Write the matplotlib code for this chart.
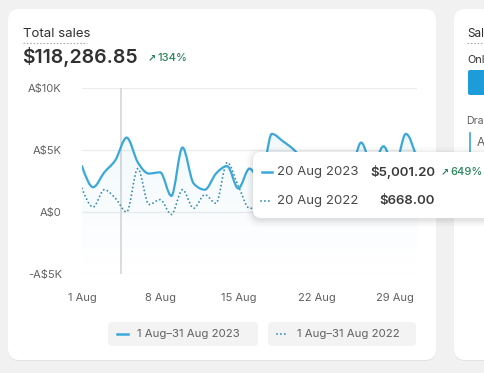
import numpy as np
import matplotlib
matplotlib.use('Agg')
from matplotlib import pyplot as plt
from matplotlib.path import Path
from matplotlib.patches import PathPatch, FancyBboxPatch
from matplotlib.lines import Line2D
from matplotlib.transforms import IdentityTransform

W, H = 485, 373

# data (A$ per day)
days = list(range(1, 32))
sales_2023 = [3700, 2000, 3200, 4200, 6000, 4000, 3100, 3200, 1300, 5200,
              2300, 1800, 3100, 3700, 1900, 3500, 2500, 6300, 5700, 5001.20,
              4000, 3300, 2700, 3500, 3300, 5600, 3700, 5300, 3600, 6300, 4200]
sales_2022 = [1900, 400, 1800, 1100, 0, 3500, 600, 1000, -200, 1800,
              300, 1400, 700, 4000, 2100, 300, 400, 1500, 1000, 668.00,
              1200, 2000, 800, 1500, 500, 2200, 1000, 1800, 600, 2500, 1200]
x_ticks = [1, 8, 15, 22, 29]
x_labels = ['1 Aug', '8 Aug', '15 Aug', '22 Aug', '29 Aug']
y_ticks = [-5000, 0, 5000, 10000]
y_labels = ['-A$5K', 'A$0', 'A$5K', 'A$10K']
hover_day = 4.5

BLUE = '#3aa8d8'
DOT = '#3a90b2'
GREEN = '#29845a'
GREY = '#616161'
DARK = '#303030'
DOTS = (0, (0.01, 2.0))

plt.rcParams['font.family'] = ['Inter', 'DejaVu Sans']


def smooth(x, y):
    # monotone cubic (like d3 curveMonotoneX) as bezier path in data coords
    x = np.asarray(x, float)
    y = np.asarray(y, float)
    n = len(x)
    h = np.diff(x)
    s = np.diff(y) / h
    t = np.zeros(n)
    for i in range(1, n - 1):
        p = (s[i - 1] * h[i] + s[i] * h[i - 1]) / (h[i - 1] + h[i])
        t[i] = (np.sign(s[i - 1]) + np.sign(s[i])) * min(abs(s[i - 1]), abs(s[i]), 0.5 * abs(p))
    t[0] = (3 * s[0] - t[1]) / 2
    t[-1] = (3 * s[-1] - t[-2]) / 2
    verts = [(x[0], y[0])]
    codes = [Path.MOVETO]
    for i in range(n - 1):
        dx = h[i] / 3
        verts += [(x[i] + dx, y[i] + dx * t[i]), (x[i + 1] - dx, y[i + 1] - dx * t[i + 1]), (x[i + 1], y[i + 1])]
        codes += [Path.CURVE4] * 3
    return verts, codes


def box(x0, y0, x1, y1, r, **kw):
    p = FancyBboxPatch((x0, H - y1), x1 - x0, y1 - y0,
                       boxstyle='round,pad=0,rounding_size=%s' % r,
                       transform=IdentityTransform(), **kw)
    fig.add_artist(p)
    return p


def txt(x, y, s, **kw):
    kw.setdefault('va', 'center')
    return fig.text(x / W, 1 - y / H, s, **kw)


def seg(x0, x1, y0, y1=None, **kw):
    y1 = y0 if y1 is None else y1
    fig.add_artist(Line2D([x0, x1], [H - y0, H - y1], transform=IdentityTransform(), **kw))


fig = plt.figure(figsize=(W / 100, H / 100), dpi=100, facecolor='#f1f1f1')

# cards
box(8, 10, 436, 361, 11, facecolor='#e3e3e3', edgecolor='none', zorder=-3)
box(8, 9, 436, 360, 11, facecolor='white', edgecolor='none', zorder=-2)
box(454, 10, 520, 361, 11, facecolor='#e3e3e3', edgecolor='none', zorder=-3)
box(454, 9, 520, 360, 11, facecolor='white', edgecolor='none', zorder=-2)

# header
txt(23, 34, 'Total sales', fontsize=9.5, color=DARK)
seg(23, 87, 43, color='#b0b0b0', lw=0.8, ls=(0, (1.5, 1.5)))
txt(22, 57, '$118,286.85', fontsize=14, color=DARK, fontweight='semibold')
txt(148, 58, '↗', fontsize=7, color=GREEN, fontweight='bold', family=['DejaVu Sans'])
txt(157, 58, '134%', fontsize=8, color=GREEN, fontweight='medium')

# chart
ax = fig.add_axes([82 / W, (H - 274) / H, (417 - 82) / W, (274 - 88) / H])
ax.set_facecolor('none')
for sp in ax.spines.values():
    sp.set_visible(False)
ax.set_yticks(y_ticks, y_labels)
ax.set_xticks(x_ticks, x_labels)
ax.tick_params(length=0, labelsize=8, colors=GREY)
ax.tick_params(axis='y', pad=14.5)
ax.tick_params(axis='x', pad=14)
for v in y_ticks:
    ax.axhline(v, color='#ececec', lw=0.9, zorder=0)
ax.axvline(hover_day, color='#d6d6d6', lw=1.2, zorder=1)

v23, c23 = smooth(days, sales_2023)
v22, c22 = smooth(days, sales_2022)

# soft gradient fill under the current period
area = Path(v23 + [(days[-1], -5000), (days[0], -5000), v23[0]],
            c23 + [Path.LINETO, Path.LINETO, Path.CLOSEPOLY])
clip = PathPatch(area, facecolor='none', edgecolor='none', transform=ax.transData)
ax.add_patch(clip)
grad = np.zeros((100, 1, 4))
grad[..., 0:3] = matplotlib.colors.to_rgb(BLUE)
grad[:, 0, 3] = np.linspace(0.07, 0.0, 100)
im = ax.imshow(grad, extent=(1, 31, -5000, 6500), aspect='auto', origin='upper', zorder=1)
im.set_clip_path(clip)
ax.set_xlim(1, 31)
ax.set_ylim(-5000, 10000)

ax.add_patch(PathPatch(Path(v22, c22), facecolor='none', edgecolor=DOT, lw=1.4,
                       ls=DOTS, capstyle='round', zorder=2))
ax.add_patch(PathPatch(Path(v23, c23), facecolor='none', edgecolor=BLUE, lw=1.6,
                       capstyle='round', zorder=3))

# legend
box(108, 322, 258, 346, 4, facecolor='#f3f3f3', edgecolor='none', zorder=2)
box(268, 322, 416, 346, 4, facecolor='#f3f3f3', edgecolor='none', zorder=2)
seg(117, 128, 334, color=BLUE, lw=1.8, zorder=3)
seg(277, 288, 334, color=DOT, lw=1.4, ls=DOTS, dash_capstyle='round', zorder=3)
txt(137, 334, '1 Aug–31 Aug 2023', fontsize=8.2, color=GREY, zorder=3)
txt(297, 334, '1 Aug–31 Aug 2022', fontsize=8.2, color=GREY, zorder=3)

# tooltip
for g, a in [(7, 0.015), (5, 0.02), (3, 0.03), (1, 0.04)]:
    box(253 - g, 152 - g + 2, 500 + g, 218 + g + 2, 8 + g, facecolor='black', alpha=a,
        edgecolor='none', zorder=4)
box(253, 152, 500, 218, 8, facecolor='white', edgecolor='none', zorder=5)
seg(262, 272, 172, color=BLUE, lw=1.8, zorder=6)
seg(261, 272, 201, color=DOT, lw=1.4, ls=DOTS, dash_capstyle='round', zorder=6)
txt(277, 172, '20 Aug 2023', fontsize=9.5, color='#4a4a4a', zorder=6)
txt(277, 201, '20 Aug 2022', fontsize=9.5, color='#4a4a4a', zorder=6)
txt(435, 172, '$5,001.20', fontsize=9.5, color='#3a3a3a', fontweight='semibold', ha='right', zorder=6)
txt(435, 201, '$668.00', fontsize=9.5, color='#3a3a3a', fontweight='semibold', ha='right', zorder=6)
txt(441, 172, '↗', fontsize=7, color=GREEN, fontweight='bold', family=['DejaVu Sans'], zorder=6)
txt(450, 172, '649%', fontsize=8, color=GREEN, fontweight='medium', zorder=6)

# second card (cut off at the right edge)
txt(467, 34, 'Sal', fontsize=8.5, color=DARK)
seg(467, 485, 43, color='#b0b0b0', lw=0.8, ls=(0, (1.5, 1.5)))
txt(467, 60, 'Onl', fontsize=7.8, color=DARK)
box(468, 70, 495, 95, 2, facecolor='#1e9bd9', edgecolor='none')
txt(466, 121, 'Dra', fontsize=7.6, color=GREY)
seg(470, 470, 133, 153, color=BLUE, lw=1.2)
txt(477, 143, 'A', fontsize=8.5, color=GREY)

fig.savefig('out.png', dpi=100)
